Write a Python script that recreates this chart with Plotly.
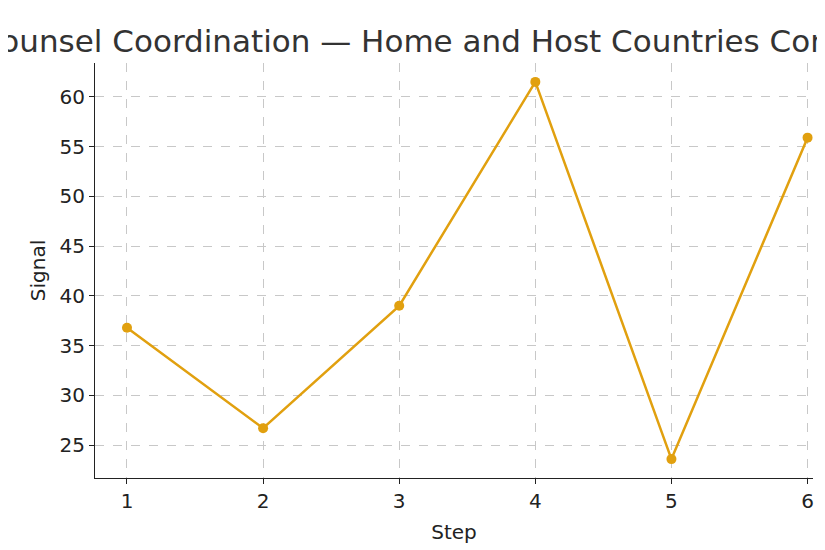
import plotly.graph_objects as go

steps = [1, 2, 3, 4, 5, 6]
signal = [36.8, 26.7, 39.0, 61.5, 23.6, 55.9]
title = "Legal Counsel Coordination — Home and Host Countries Comparison"

fig = go.Figure(go.Scatter(x=steps, y=signal, mode="lines+markers",
    line=dict(color="#E1A00F", width=2.5), marker=dict(size=10, color="#E1A00F")))
ax = dict(showgrid=True, gridcolor="#c8c8c8", griddash="dash", gridwidth=1,
          showline=True, linecolor="#222", linewidth=1.2, ticks="outside",
          ticklen=5, tickcolor="#222", tickfont=dict(size=20, color="#222"),
          zeroline=False, automargin=False)
fig.update_layout(
    width=825, height=550, paper_bgcolor="white", plot_bgcolor="white",
    font=dict(family="DejaVu Sans", color="#222"),
    title=dict(text=title, x=0.5, xanchor="center", y=0.94, yanchor="middle",
               font=dict(size=31, color="#333")),
    margin=dict(l=87, r=20, t=55, b=80), showlegend=False,
    xaxis=dict(ax, range=[0.765, 6.04], tickvals=steps,
               title=dict(text="Step", font=dict(size=20), standoff=12)),
    yaxis=dict(ax, range=[21.7, 63.4], tickvals=[25, 30, 35, 40, 45, 50, 55, 60],
               title=dict(text="Signal", font=dict(size=20), standoff=8)),
)
fig.write_html("out.html")
